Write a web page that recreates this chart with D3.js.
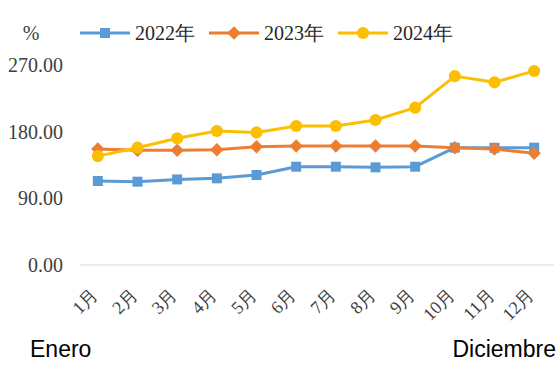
<!DOCTYPE html>
<html><head><meta charset="utf-8">
<script src="https://cdn.jsdelivr.net/npm/d3@7"></script>
<style>body{margin:0;background:#fff}svg{display:block}</style>
</head><body>
<script>
const months = ["1月","2月","3月","4月","5月","6月","7月","8月","9月","10月","11月","12月"];
const seriesNames = ["2022年","2023年","2024年"];
const v2022 = [113.4,112.5,115.5,117,121.5,132.7,132.7,131.8,132.7,158.4,158.2,158.4];
const v2023 = [156.6,155,155,155.5,159.7,160.6,160.6,160.6,160.6,158.4,156.6,150.8];
const v2024 = [147,158.4,171,181,179,187.6,187.6,195.8,212.4,255,246.6,262];
const yTicks = [0,90,180,270];
const edgeLabels = ["Enero","Diciembre"];

const W=559,H=376;
const svg=d3.select("body").append("svg").attr("width",W).attr("height",H);
const x=d3.scaleBand().domain(months).range([78,554]);
const cx=d=>x(d)+x.bandwidth()/2;
const y=d3.scaleLinear().domain([0,270]).range([265,65]);
const serif="'Liberation Serif','Times New Roman',serif";
const sans="'Liberation Sans',Arial,sans-serif";

// baseline
svg.append("line").attr("x1",80).attr("x2",554).attr("y1",y(0)).attr("y2",y(0))
  .attr("stroke","#d9d9d9").attr("stroke-width",1.2);

// y labels
svg.selectAll(".yl").data(yTicks).enter().append("text")
  .attr("x",63).attr("y",d=>y(d)).attr("dy","0.35em").attr("text-anchor","end")
  .attr("font-family",serif).attr("font-size",20).attr("fill","#404040")
  .text(d3.format(".2f"));

// x labels
svg.selectAll(".xl").data(months).enter().append("text")
  .attr("transform",d=>`translate(${cx(d)+1},${296}) rotate(-45)`)
  .attr("text-anchor","end")
  .attr("font-family",serif).attr("font-size",18).attr("fill","#404040")
  .text(d=>d);

const colors=["#5b9bd5","#ed7d31","#fbbf00"];
const data=[v2022,v2023,v2024];
const line=d3.line().x((d,i)=>cx(months[i])).y(d=>y(d));
const sym=[d3.symbolSquare,d3.symbolSquare,d3.symbolCircle];
const symSize=[100,90,115];
const symRot=[0,45,0];

data.forEach((vals,k)=>{
  svg.append("path").datum(vals).attr("d",line).attr("fill","none")
    .attr("stroke",colors[k]).attr("stroke-width",3).attr("stroke-linejoin","round");
  svg.selectAll(".m"+k).data(vals).enter().append("path")
    .attr("d",d3.symbol().type(sym[k]).size(symSize[k]))
    .attr("transform",(d,i)=>`translate(${cx(months[i])},${y(d)}) rotate(${symRot[k]})`)
    .attr("fill",colors[k]);
});

// legend
svg.append("text").attr("x",31).attr("y",33).attr("dy","0.35em").attr("text-anchor","middle")
  .attr("font-family",serif).attr("font-size",20).attr("fill","#404040").text("%");
const lx=[80,209,338];
seriesNames.forEach((n,k)=>{
  const g=svg.append("g").attr("transform",`translate(${lx[k]},33)`);
  g.append("line").attr("x1",0).attr("x2",50).attr("stroke",colors[k]).attr("stroke-width",3);
  g.append("path").attr("d",d3.symbol().type(sym[k]).size(symSize[k])).attr("transform",`translate(25,0) rotate(${symRot[k]})`).attr("fill",colors[k]);
  g.append("text").attr("x",55).attr("dy","0.35em").attr("font-family",serif).attr("font-size",20)
    .attr("fill","#262626").text(n);
});

// edge labels
svg.append("text").attr("x",30).attr("y",357).attr("font-family",sans).attr("font-size",23).attr("fill","#000").text(edgeLabels[0]);
svg.append("text").attr("x",556).attr("y",357).attr("text-anchor","end").attr("font-family",sans).attr("font-size",23).attr("fill","#000").text(edgeLabels[1]);
</script>
</body></html>
